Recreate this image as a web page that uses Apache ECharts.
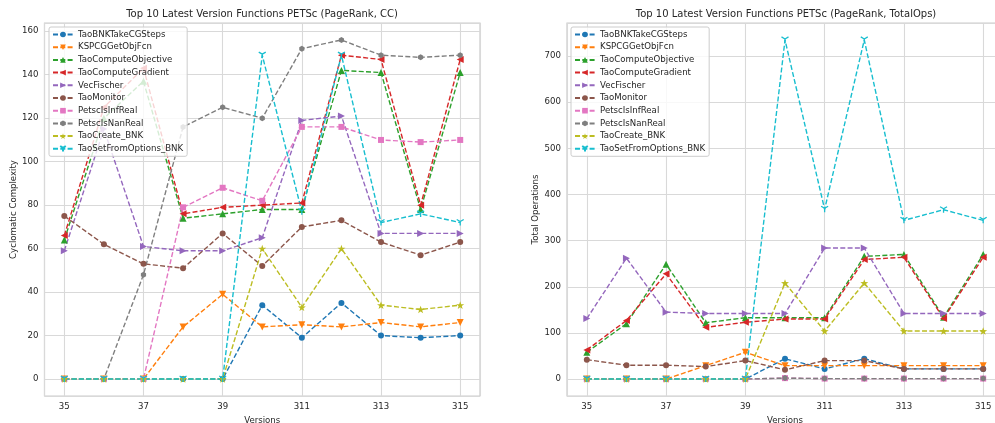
<!DOCTYPE html>
<html>
<head>
<meta charset="utf-8">
<script src="https://cdn.jsdelivr.net/npm/echarts@6/dist/echarts.min.js"></script>
<style>
html,body{margin:0;padding:0;background:#fff;}
#chart{width:995px;height:423px;}
</style>
</head>
<body>
<div id="chart"></div>
<script>
// versions on the x axis
var versions = ['35','36','37','38','39','310','311','312','313','314','315'];
var names = ['TaoBNKTakeCGSteps','KSPCGGetObjFcn','TaoComputeObjective','TaoComputeGradient','VecFischer',
             'TaoMonitor','PetscIsInfReal','PetscIsNanReal','TaoCreate_BNK','TaoSetFromOptions_BNK'];

// cyclomatic complexity (left)
var ccBNKTakeCGSteps   = [0,0,0,0,0,34,19,35,20,19,20];
var ccKSPCGGetObjFcn   = [0,0,0,24,39,24,25,24,26,24,26];
var ccComputeObjective = [64,120,137,74,76,78,78,142,141,78,141];
var ccComputeGradient  = [66,125,143,76,79,80,81,149,147,80,147];
var ccVecFischer       = [59,115,61,59,59,65,119,121,67,67,67];
var ccTaoMonitor       = [75,62,53,51,67,52,70,73,63,57,63];
var ccIsInfReal        = [0,0,0,79,88,82,116,116,110,109,110];
var ccIsNanReal        = [0,0,48,116,125,120,152,156,149,148,149];
var ccCreateBNK        = [0,0,0,0,0,60,33,60,34,32,34];
var ccSetFromOptions   = [0,0,0,0,0,149,77,149,72,76,72];

// total operations (right)
var opsBNKTakeCGSteps   = [0,0,0,0,0,44,22,44,22,22,22];
var opsKSPCGGetObjFcn   = [0,0,0,29,58,29,29,29,29,29,29];
var opsComputeObjective = [58,120,249,122,133,133,133,266,270,134,270];
var opsComputeGradient  = [63,127,228,112,123,130,130,259,264,131,264];
var opsVecFischer       = [131,262,145,142,142,142,284,284,142,142,142];
var opsTaoMonitor       = [42,30,30,27,40,20,40,40,22,22,22];
var opsIsInfReal        = [0,0,0,0,0,2,1,1,1,1,1];
var opsIsNanReal        = [0,0,0,0,0,2,1,1,1,1,1];
var opsCreateBNK        = [0,0,0,0,0,208,104,208,104,104,104];
var opsSetFromOptions   = [0,0,0,0,0,735,368,735,344,367,344];

var ccData = [ccBNKTakeCGSteps,ccKSPCGGetObjFcn,ccComputeObjective,ccComputeGradient,ccVecFischer,
              ccTaoMonitor,ccIsInfReal,ccIsNanReal,ccCreateBNK,ccSetFromOptions];
var opsData = [opsBNKTakeCGSteps,opsKSPCGGetObjFcn,opsComputeObjective,opsComputeGradient,opsVecFischer,
               opsTaoMonitor,opsIsInfReal,opsIsNanReal,opsCreateBNK,opsSetFromOptions];

var colors = ['#1f77b4','#ff7f0e','#2ca02c','#d62728','#9467bd','#8c564b','#e377c2','#7f7f7f','#bcbd22','#17becf'];

var STAR = 'path://M0,-10 L2.35,-3.24 L9.51,-3.09 L3.8,1.24 L5.88,8.09 L0,4 L-5.88,8.09 L-3.8,1.24 L-9.51,-3.09 L-2.35,-3.24 Z';
var HEX = 'path://M0,-10 L8.66,-5 L8.66,5 L0,10 L-8.66,5 L-8.66,-5 Z';
var TRI = 'path://M0,0 L0,10 M0,0 L-8.66,-5 M0,0 L8.66,-5';
// marker: symbol, rotate, size
var marks = [
    ['circle',0,6],
    ['triangle',180,7],
    ['triangle',0,7],
    ['triangle',90,7],
    ['triangle',-90,7],
    ['circle',0,6],
    ['rect',0,6],
    [HEX,0,6],
    [STAR,0,8],
    [TRI,0,7]
];

var FONT = 'DejaVu Sans';
var TXT = '#262626';

function xAxisOf(idx){
    return {
        type:'value', gridIndex:idx, min:-0.5, max:10.5, minInterval:2, maxInterval:2,
        name:'Versions', nameLocation:'middle', nameGap:16,
        nameTextStyle:{fontFamily:FONT,fontSize:8.6,color:TXT},
        axisLine:{show:false}, axisTick:{show:false},
        axisLabel:{fontFamily:FONT,fontSize:8.6,color:TXT,margin:6,showMinLabel:false,showMaxLabel:false,
            formatter:function(v){ return (v>=0 && v%1===0) ? versions[v] : ''; }},
        splitLine:{show:true,lineStyle:{color:'#d9d9d9',width:1.1}}
    };
}
function yAxisOf(idx,min,max,step,name){
    return {
        type:'value', gridIndex:idx, min:min, max:max, minInterval:step, maxInterval:step,
        name:name, nameLocation:'middle', nameGap:25,
        nameTextStyle:{fontFamily:FONT,fontSize:8.6,color:TXT},
        axisLine:{show:false}, axisTick:{show:false},
        axisLabel:{fontFamily:FONT,fontSize:8.6,color:TXT,margin:6,showMinLabel:false,showMaxLabel:false,
            formatter:function(v){ return (v%step===0) ? String(v) : ''; }},
        splitLine:{show:true,lineStyle:{color:'#d9d9d9',width:1.1}}
    };
}
function legendOf(left){
    return {
        data:names, orient:'vertical', left:left, top:27, z:20,
        itemWidth:20, itemHeight:7, itemGap:2.7,
        padding:[2.5,4,2.5,3],
        backgroundColor:'rgba(255,255,255,0.8)', borderColor:'#cccccc', borderWidth:1, borderRadius:2,
        textStyle:{fontFamily:FONT,fontSize:8.6,color:TXT,lineHeight:10,padding:[0,0,0,0]},
        selectedMode:false
    };
}

var series = [];
function addSeries(data,idx){
    for(var i=0;i<names.length;i++){
        var m = marks[i];
        series.push({
            name:names[i], type:'line', xAxisIndex:idx, yAxisIndex:idx,
            data:data[i].map(function(v,k){ return [k,v]; }),
            symbol:m[0], symbolRotate:m[1], symbolSize:m[2], symbolKeepAspect:true,
            showSymbol:true, animation:false,
            lineStyle:{color:colors[i],width:1.4,type:[5,2.3]},
            itemStyle:{color:colors[i],borderColor:colors[i],borderWidth:(i===9?1.3:0)},
            emphasis:{disabled:true},
            z:2, zlevel:0
        });
    }
}
addSeries(ccData,0);
addSeries(opsData,1);

var option = {
    backgroundColor:'#ffffff',
    animation:false,
    title:[
        {text:'Top 10 Latest Version Functions PETSc (PageRank, CC)', left:262, top:9, textAlign:'center', padding:0,
         textStyle:{fontFamily:FONT,fontSize:10,fontWeight:'normal',color:TXT}},
        {text:'Top 10 Latest Version Functions PETSc (PageRank, TotalOps)', left:786, top:9, textAlign:'center', padding:0,
         textStyle:{fontFamily:FONT,fontSize:10,fontWeight:'normal',color:TXT}}
    ],
    legend:[legendOf(49), legendOf(571)],
    grid:[
        {left:44.5, right:515, top:23, bottom:27, show:true, borderColor:'#cccccc', borderWidth:1.2,
         backgroundColor:'transparent', outerBoundsMode:'none', containLabel:false},
        {left:567, right:-8, top:23, bottom:27, show:true, borderColor:'#cccccc', borderWidth:1.2,
         backgroundColor:'transparent', outerBoundsMode:'none', containLabel:false}
    ],
    xAxis:[xAxisOf(0), xAxisOf(1)],
    yAxis:[yAxisOf(0,-7.8,163.8,20,'Cyclomatic Complexity'), yAxisOf(1,-36.75,771.75,100,'Total Operations')],
    series:series
};

var myChart = echarts.init(document.getElementById('chart'));
myChart.setOption(option);
</script>
</body>
</html>
